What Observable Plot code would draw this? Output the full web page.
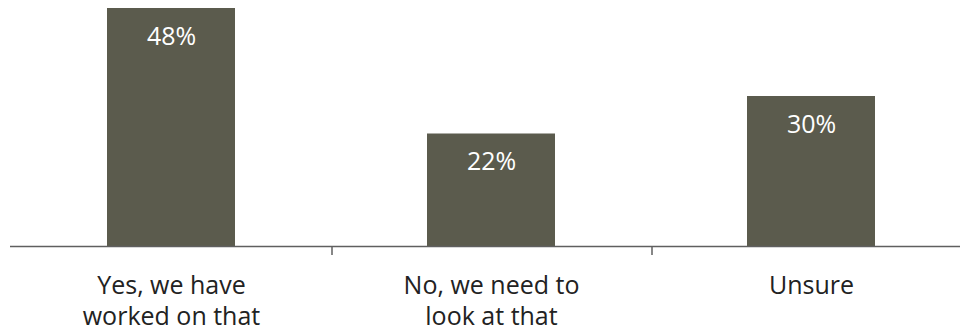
<!DOCTYPE html>
<html>
<head>
<meta charset="utf-8">
<script src="https://cdn.jsdelivr.net/npm/d3@7"></script>
<script src="https://cdn.jsdelivr.net/npm/@observablehq/plot@0.6"></script>
<style>
  html, body { margin: 0; padding: 0; background: #fff; }
  svg { display: block; }
</style>
</head>
<body>
<div id="chart"></div>
<script>
const categories = ["Yes, we have worked on that", "No, we need to look at that", "Unsure"];
const tickLabels = ["Yes, we have\nworked on that", "No, we need to\nlook at that", "Unsure"];
const values = [47.6, 22.5, 30.0];
const valueLabels = ["48%", "22%", "30%"];

const data = categories.map((c, i) => ({category: c, value: values[i], label: valueLabels[i]}));

const barColor = "#5b5b4d";
const font = "'Open Sans', Lato, sans-serif";

const chart = Plot.plot({
  width: 960,
  height: 326,
  marginLeft: 10,
  marginRight: 0,
  marginTop: 8,
  marginBottom: 80,
  style: {fontFamily: font, background: "#fff"},
  x: {domain: categories, range: [10, 971], paddingInner: 0.6, paddingOuter: 0.3, axis: null},
  y: {domain: [0, 50], range: [246, -4], axis: null},
  marks: [
    Plot.barY(data, {x: "category", y: "value", fill: barColor}),
    Plot.ruleY([0], {stroke: "#5f5f5f", strokeWidth: 1.5}),
    Plot.ruleX(categories.slice(0, -1), {x: d => d, dx: 160.5, y1: 0, y2: 0, insetBottom: -9, stroke: "#5f5f5f", strokeWidth: 1.5}),
    Plot.text(data, {x: "category", y: "value", text: "label", dy: 28, fill: "#fff", fontSize: 25, fontFamily: font}),
    Plot.axisX({
      label: null,
      tickSize: 0,
      tickPadding: 25,
      tickFormat: d => tickLabels[categories.indexOf(d)],
      fontSize: 25,
      lineHeight: 1.24,
      fill: "#222",
      fontFamily: font
    })
  ]
});

document.getElementById("chart").appendChild(chart);
</script>
</body>
</html>
